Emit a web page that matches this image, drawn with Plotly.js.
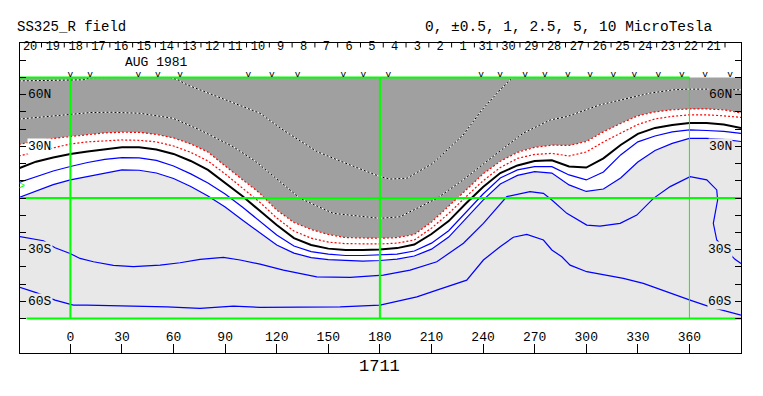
<!DOCTYPE html>
<html><head><meta charset="utf-8">
<script src="https://cdn.plot.ly/plotly-3.0.1.min.js"></script>
<style>body{margin:0;background:#fff}#chart{width:763px;height:396px}</style>
</head><body><div id="chart"></div>
<script>
// ---- data (longitude / latitude in degrees) ----
const LON = [-30,-20,-10,0,10,20,30,40,50,60,70,80,90,100,110,120,130,140,150,160,170,180,190,200,210,220,230,240,250,260,270,280,290,300,310,320,330,340,350,360,370,380,390];
// contour -1 uT (outer red, edge of dark region)
const NEG_1 = [31.1,33.1,34.6,35.8,36.9,37.8,38.2,38.1,36.9,34.9,31.4,26.7,18.6,10.5,2.9,-7.0,-14.2,-18.3,-21.2,-23.0,-23.4,-23.4,-23.0,-21.2,-14.0,-5.0,4.5,14.0,21.3,26.5,29.4,30.7,30.5,32.8,38.4,43.3,47.7,50.0,51.2,51.7,51.7,51.2,49.4];
// contour -0.5 uT (inner red)
const NEG_05 = [24.4,26.7,29.1,31.4,32.6,33.3,33.7,33.5,32.6,30.2,26.5,21.5,14.0,5.8,-2.3,-11.6,-19.2,-23.3,-25.6,-26.5,-26.7,-26.7,-26.2,-24.4,-17.5,-9.0,0.7,10.0,17.7,23.0,25.3,25.9,24.4,26.7,32.6,37.8,42.7,45.9,47.4,48.3,48.3,47.7,46.8];
// neutral line 0 uT
const ZERO = [17.2,21.1,23.5,25.5,27.0,28.3,29.4,29.5,28.2,25.6,21.5,16.3,8.7,1.2,-7.3,-15.7,-23.3,-27.3,-29.4,-30.2,-30.2,-29.9,-29.1,-27.0,-20.9,-13.4,-3.2,6.4,14.5,18.9,21.5,21.9,18.3,17.7,23.0,30.8,37.2,40.7,42.4,43.6,43.6,42.7,40.7];
// contour +0.5 uT
const POS_05 = [9.0,12.5,15.7,18.3,20.6,22.4,23.4,23.3,21.8,18.6,14.0,8.7,2.3,-5.2,-13.4,-21.5,-27.9,-31.1,-32.6,-33.4,-33.4,-33.1,-32.6,-30.8,-26.2,-19.0,-8.5,2.3,11.6,16.3,18.2,18.2,13.4,10.5,15.1,25.0,32.6,36.0,38.4,39.5,39.2,38.7,37.5];
// contour +1 uT (edge of light region)
const POS_1 = [0.3,4.1,7.8,10.5,12.5,14.5,16.3,16.1,14.5,11.3,6.7,1.2,-5.2,-12.8,-20.3,-27.3,-32.0,-34.6,-35.8,-36.3,-36.6,-36.3,-35.5,-33.7,-29.7,-22.7,-12.2,-1.2,8.1,13.1,15.3,14.5,7.6,3.8,5.2,11.6,20.9,27.6,31.7,34.6,34.6,34.0,32.8];
// contour +2.5 uT
const POS_25_LON = [-30,-15.7,-8.9,-0.2,5.6,13.4,25.0,36.6,52.2,63.8,75.4,89.0,98.7,110.3,123.9,143.3,162.7,182.0,197.6,213.1,228.6,240.2,253.8,263.4,267.3,275.1,280.0,288.7,300.3,308.0,319.7,329.4,339.1,348.8,360.4,370.1,375.9,376.4,373.9,375.9,381.5,386.5,390.0];
const POS_25_LAT = [-22.3,-24.8,-28.9,-32.2,-35.1,-37.0,-39.1,-39.9,-39.0,-37.6,-35.6,-34.5,-36.0,-38.4,-41.9,-45.8,-46.1,-44.8,-41.9,-37.0,-26.3,-14.7,0.8,3.1,3.7,2.7,-1.2,-8.9,-15.7,-16.3,-14.7,-9.9,-0.2,6.6,12.4,10.5,4.7,-1.2,-14.7,-24.4,-30.5,-35.6,-38.0];
// contour +5 uT
const POS_5_LON = [-30,-19.5,-8.9,1.7,9.5,36.6,56.1,75.4,94.8,110.3,143.3,156.9,180.1,201.5,213.1,230.5,240.2,249.9,257.6,265.4,275.1,280.0,285.8,290.6,300.3,312.0,321.6,333.2,342.9,354.5,360.4,372.0,378.8,390.0];
const POS_5_LAT = [-51.7,-55.1,-59.3,-62.2,-62.2,-62.8,-63.2,-64.1,-62.8,-63.5,-63.5,-63.2,-62.2,-57.4,-53.5,-47.7,-36.0,-28.3,-22.8,-21.1,-24.4,-30.2,-34.1,-39.0,-42.8,-44.8,-46.7,-49.6,-53.1,-57.4,-59.3,-63.2,-65.1,-68.0];
// contour -2.5 uT
const NEG_25_LON = [-30,-11.8,11.5,23.1,40.5,59.7,75.4,94.6,107.4,133.6,152.8,180.1,191.7,213.2,228.4,248.2,263.3,279.0,288.9,308.0,323.8,337.1,350.5,358.7,370.3,390];
const NEG_25_LAT = [45.8,47.3,49.6,49.8,49.2,46.3,39.5,29.8,21.5,-0.2,-8.9,-11.8,-10.9,-0.2,10.5,26.0,37.6,45.3,47.3,54.1,58.0,60.9,62.8,63.2,63.2,62.8];
// contour -5 uT
const NEG_5_LON = [-30,-11.8,7.4,11.5,27.2,null,58.0,62.6,67.9,85.3,110.3,123.7,143.5,162.6,180.1,185.9,195.8,210.9,228.4,239.4,249.9,257.4];
const NEG_5_LAT = [68.0,68.3,68.6,69.8,70.0,null,70.0,68.6,65.7,58.9,49.2,39.5,26.9,19.2,12.4,11.0,11.5,20.2,36.6,51.2,62.8,70.0];
// observation markers (longitude)
const OBS_LON = [0,11.5,39.5,50.8,63.8,103.5,117.1,132.2,158.8,170.4,184.9,238.8,249.9,264.4,276.0,289.3,302.3,315.8,328.0,342.0,355.6,369.1,383.7];
// dates along the top (left to right)
const DAY_LABELS = ['20','19','18','17','16','15','14','13','12','11','10','9','8','7','6','5','4','3','2','1','31','30','29','28','27','26','25','24','23','22','21'];
const DAY_END_LON = 380.7, DAY_STEP = 13.25;
const LON_TICKS = [0,30,60,90,120,150,180,210,240,270,300,330,360];
const LAT_TICKS = [-80,-70,-60,-50,-40,-30,-20,-10,0,10,20,30,40,50,60,70,80];
const LAT_LABELS = [{v:60,t:'60N'},{v:30,t:'30N'},{v:-30,t:'30S'},{v:-60,t:'60S'}];
const GREEN_LONS = [0,180,360];
const LAT_TOP = 70, LAT_BOT = -70;
const X_RANGE = [-29.3, 390], Y_RANGE = [-90, 90];

// ---- styles ----
const DARK = '#a0a0a0', LIGHT = '#e8e8e8', GREEN = '#00ff00', BLUE = '#0000ff', RED = '#ff0000';
const BAND = '#ffffff';
const FONT = 'Liberation Mono, DejaVu Sans Mono, monospace';

const traces = [];
const base = {type:'scatter', mode:'lines', hoverinfo:'skip', showlegend:false};
const rev = a => a.slice().reverse();
const band = (lower, upper, color) => Object.assign({}, base, {
  x: LON.concat(rev(LON)), y: lower.concat(rev(upper)), fill:'toself', fillcolor:color, line:{width:0}
});
// region fills
traces.push(band(NEG_1, LON.map(()=>LAT_TOP), DARK));
traces.push(band(POS_1, NEG_1, BAND));
traces.push(band(LON.map(()=>LAT_BOT), POS_1, LIGHT));

// dashed black/white contours in dark region
[[NEG_5_LON,NEG_5_LAT],[NEG_25_LON,NEG_25_LAT]].forEach(([xs,ys])=>{
  traces.push(Object.assign({}, base, {x:xs, y:ys, line:{color:'#ffffff', width:1}}));
  traces.push(Object.assign({}, base, {x:xs, y:ys, line:{color:'#000000', width:1, dash:'2px,2px'}}));
});
// red dotted
traces.push(Object.assign({}, base, {x:LON, y:NEG_1, line:{color:RED, width:1.2, dash:'2px,2px'}}));
traces.push(Object.assign({}, base, {x:LON, y:NEG_05, line:{color:RED, width:1.2, dash:'2px,2px'}}));
// neutral line
traces.push(Object.assign({}, base, {x:LON, y:ZERO, line:{color:'#000000', width:2}}));
// blue contours
traces.push(Object.assign({}, base, {x:LON, y:POS_05, line:{color:BLUE, width:1.2}}));
traces.push(Object.assign({}, base, {x:LON, y:POS_1, line:{color:BLUE, width:1.2}}));
traces.push(Object.assign({}, base, {x:POS_25_LON, y:POS_25_LAT, line:{color:BLUE, width:1.2}}));
traces.push(Object.assign({}, base, {x:POS_5_LON, y:POS_5_LAT, line:{color:BLUE, width:1.2}}));

// green reference lines
GREEN_LONS.forEach(l=>{
  traces.push(Object.assign({}, base, {x:[l,l], y:[LAT_BOT,LAT_TOP], line:{color:GREEN, width: l===360?1:2}}));
});
traces.push(Object.assign({}, base, {x:[X_RANGE[0]-1, X_RANGE[1]], y:[0,0], line:{color:GREEN, width:2}}));
traces.push(Object.assign({}, base, {x:[X_RANGE[0]-1, 360], y:[LAT_TOP,LAT_TOP], line:{color:GREEN, width:2}}));
traces.push(Object.assign({}, base, {x:[-25.5, X_RANGE[1]], y:[LAT_BOT,LAT_BOT], line:{color:GREEN, width:2}}));

// day ticks along top
const dtx = [], dty = [];
for (let k = 0; k <= DAY_LABELS.length; k++) {
  const l = DAY_END_LON - k*DAY_STEP;
  dtx.push(l, l, null); dty.push(90, 87.4, null);
}
traces.push(Object.assign({}, base, {x:dtx, y:dty, line:{color:'#000000', width:1}, cliponaxis:false}));
traces.push({type:'scatter', mode:'text', hoverinfo:'skip', showlegend:false, cliponaxis:false,
  x: DAY_LABELS.map((d,i)=>DAY_END_LON - (DAY_LABELS.length - 1 - i + 0.5)*DAY_STEP),
  y: DAY_LABELS.map(()=>87.4), text: DAY_LABELS,
  textfont:{family:FONT, size:12, color:'#000'}});
// observation markers
traces.push({type:'scatter', mode:'text', hoverinfo:'skip', showlegend:false, cliponaxis:false,
  x: OBS_LON, y: OBS_LON.map(()=>71.5), text: OBS_LON.map(()=>'v'),
  textfont:{family:FONT, size:9.5, color:'#000'}});

// ---- annotations ----
const ann = [];
const pxToPaperX = px => (px - 20) / 721;
ann.push({xref:'paper', yref:'paper', x:pxToPaperX(15), y:1.052, xanchor:'left', yanchor:'middle', showarrow:false,
  text:'SS325_R field', font:{family:FONT, size:14, color:'#000'}});
ann.push({xref:'paper', yref:'paper', x:pxToPaperX(423), y:1.052, xanchor:'left', yanchor:'middle', showarrow:false,
  text:'0, ±0.5, 1, 2.5, 5, 10 MicroTesla', font:{family:FONT, size:14.5, color:'#000'}});
ann.push({xref:'x', yref:'y', x:50.2, y:78.8, showarrow:false, text:'AUG 1981', borderpad:0,
  font:{family:FONT, size:13, color:'#000'}});
ann.push({xref:'x', yref:'paper', x:180, y:-0.043, yanchor:'middle', showarrow:false, text:'1711', font:{family:FONT, size:17, color:'#000'}});
ann.push({xref:'paper', yref:'y', x:pxToPaperX(16.5), y:6.6, showarrow:false, text:'>', font:{family:FONT, size:10, color:GREEN}});
const leftBg = {'60N':DARK, '30N':'#ffffff', '30S':LIGHT, '60S':LIGHT};
const rightBg = {'60N':DARK, '30N':LIGHT, '30S':LIGHT, '60S':LIGHT};
LAT_LABELS.forEach(o=>{
  ann.push({xref:'x', yref:'y', x:-25.2, y:o.v, xanchor:'left', yanchor:'middle', showarrow:false, text:o.t,
    bgcolor:leftBg[o.t], borderpad:0, font:{family:FONT, size:13, color:'#000'}});
  ann.push({xref:'x', yref:'y', x:385.4, y:o.v, xanchor:'right', yanchor:'middle', showarrow:false, text:o.t,
    bgcolor:rightBg[o.t], borderpad:0, font:{family:FONT, size:13, color:'#000'}});
});

const layout = {
  width:763, height:396,
  margin:{l:20, r:22, t:43, b:43, pad:0},
  paper_bgcolor:'#ffffff', plot_bgcolor:'#ffffff',
  showlegend:false,
  font:{family:FONT, size:13, color:'#000'},
  xaxis:{range:X_RANGE, tickvals:LON_TICKS, ticks:'inside', ticklen:9, tickwidth:1, tickcolor:'#000',
    ticklabelposition:'inside', tickfont:{family:FONT, size:13, color:'#000'},
    showgrid:false, zeroline:false, showline:true, linecolor:'#000', linewidth:1, mirror:true, fixedrange:true},
  yaxis:{range:Y_RANGE, tickvals:LAT_TICKS, ticks:'inside', ticklen:6, tickwidth:1, tickcolor:'#000',
    showticklabels:false, showgrid:false, zeroline:false, showline:true, linecolor:'#000', linewidth:1, mirror:'ticks', fixedrange:true},
  annotations:ann
};
Plotly.newPlot('chart', traces, layout, {staticPlot:true, displayModeBar:false});
</script>
</body></html>
